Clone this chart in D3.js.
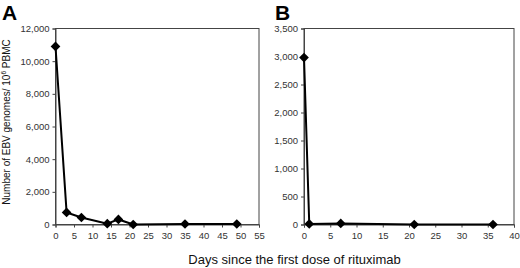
<!DOCTYPE html>
<html>
<head>
<meta charset="utf-8">
<script src="https://cdn.jsdelivr.net/npm/d3@7"></script>
<style>
  body { margin: 0; background: #fff; }
  text { font-family: Arial, "Liberation Sans", sans-serif; }
</style>
</head>
<body>
<svg id="chart" width="520" height="268"></svg>
<script>
// panel A
const daysA = [0, 3, 7, 14, 17, 21, 35, 49];
const ebvA = [10900, 740, 430, 50, 310, 0, 30, 30];
const yTicksA = [0, 2000, 4000, 6000, 8000, 10000, 12000];
const xTicksA = [0, 5, 10, 15, 20, 25, 30, 35, 40, 45, 50, 55];

// panel B
const daysB = [0, 1, 7, 21, 36];
const ebvB = [2980, 10, 20, 0, 0];
const yTicksB = [0, 500, 1000, 1500, 2000, 2500, 3000, 3500];
const xTicksB = [0, 5, 10, 15, 20, 25, 30, 35, 40];

const svg = d3.select("#chart");
const fmt = d3.format(",");
const plotTop = 28.5, plotBottom = 224.5;

function panel(opts) {
  const x = d3.scaleLinear().domain(opts.xdom).range([opts.left, opts.right]);
  const y = d3.scaleLinear().domain(opts.ydom).range([plotBottom, plotTop]);
  const g = svg.append("g");

  g.append("rect")
    .attr("x", opts.left).attr("y", plotTop)
    .attr("width", opts.right - opts.left).attr("height", plotBottom - plotTop)
    .attr("fill", "none").attr("stroke", "#444").attr("stroke-width", 1);

  const ya = g.append("g")
    .attr("transform", `translate(${opts.left},0)`)
    .call(d3.axisLeft(y).tickValues(opts.yticks).tickFormat(fmt).tickSize(3).tickPadding(3));
  const xa = g.append("g")
    .attr("transform", `translate(0,${plotBottom})`)
    .call(d3.axisBottom(x).tickValues(opts.xticks).tickSize(3).tickPadding(5));
  [ya, xa].forEach(a => {
    a.select(".domain").attr("stroke", "#444");
    a.selectAll(".tick line").attr("stroke", "#444");
    a.selectAll("text").attr("font-size", 9.5).attr("fill", "#333")
      .attr("font-family", "Arial, 'Liberation Sans', sans-serif");
  });

  const pts = opts.days.map((d, i) => [d, opts.vals[i]]);
  g.append("path")
    .datum(pts)
    .attr("fill", "none").attr("stroke", "#000").attr("stroke-width", 2)
    .attr("d", d3.line().x(d => x(d[0])).y(d => y(d[1])));

  g.selectAll(".pt")
    .data(pts)
    .join("path")
    .attr("d", d3.symbol(d3.symbolDiamond2, 60))
    .attr("transform", d => `translate(${x(d[0])},${y(d[1])})`)
    .attr("fill", "#000");

  g.append("text")
    .attr("x", opts.labelX).attr("y", 20)
    .attr("font-size", 21).attr("font-weight", "bold")
    .text(opts.label);
}

panel({ label: "A", labelX: 2, left: 55.5, right: 259, xdom: [0, 55], ydom: [0, 12000],
  xticks: xTicksA, yticks: yTicksA, days: daysA, vals: ebvA });
panel({ label: "B", labelX: 275, left: 304, right: 514, xdom: [0, 40], ydom: [0, 3500],
  xticks: xTicksB, yticks: yTicksB, days: daysB, vals: ebvB });

// y axis title
const yt = svg.append("text")
  .attr("transform", "translate(10,122) rotate(-90)")
  .attr("text-anchor", "middle")
  .attr("font-size", 10).attr("fill", "#111");
yt.append("tspan").text("Number of EBV genomes/ 10");
yt.append("tspan").attr("font-size", 6.5).attr("dy", -4).text("6");
yt.append("tspan").attr("dy", 4).text(" PBMC");

// x axis title
svg.append("text")
  .attr("x", 294.5).attr("y", 264)
  .attr("text-anchor", "middle")
  .attr("font-size", 13).attr("fill", "#111")
  .text("Days since the first dose of rituximab");
</script>
</body>
</html>
